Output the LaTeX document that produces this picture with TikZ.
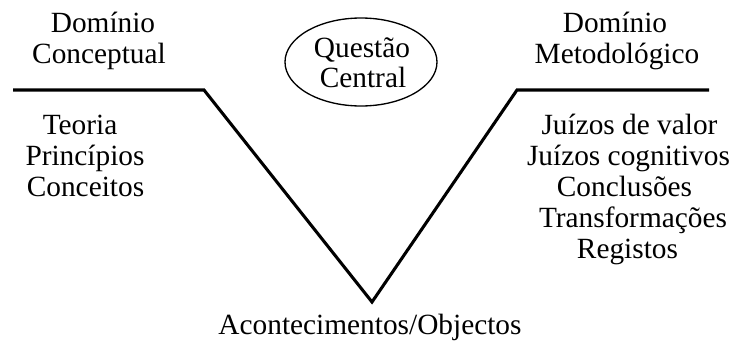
\documentclass[tikz,border=0pt]{standalone}
\usepackage{fontspec}
\setmainfont{Liberation Serif}
\usetikzlibrary{shapes.geometric}
\tikzset{
  lbl/.style={anchor=base, inner sep=0pt, font=\fontsize{22}{24}\selectfont},
  vline/.style={line width=2.3pt},
  qell/.style={draw, ellipse, line width=1pt, minimum width=114pt, minimum height=66pt, inner sep=0pt}
}
\begin{document}
\begin{tikzpicture}[x=0.75pt, y=-0.75pt]
\useasboundingbox (0,0) rectangle (732,343);
% V shape
\coordinate (l0) at (13,90);
\coordinate (l1) at (204,90);
\coordinate (vb) at (372,302);
\coordinate (r1) at (517,90);
\coordinate (r0) at (709,90);
\draw[vline] (l0) -- (l1) -- (vb) -- (r1) -- (r0);
% central question
\node[qell] (q) at (361,62) {};
\node[lbl] (q1) at (362,57) {Questão};
\node[lbl] (q2) at (363,87) {Central};
% left domain
\node[lbl] (dc1) at (103,32) {Domínio};
\node[lbl] (dc2) at (99,63) {Conceptual};
\node[lbl] (t1) at (80,134) {Teoria};
\node[lbl] (t2) at (85,165) {Princípios};
\node[lbl] (t3) at (85.5,196) {Conceitos};
% right domain
\node[lbl] (dm1) at (615,32) {Domínio};
\node[lbl] (dm2) at (617,63) {Metodológico};
\node[lbl] (m1) at (629.5,134) {Juízos de valor};
\node[lbl] (m2) at (628.5,165) {Juízos cognitivos};
\node[lbl] (m3) at (624.5,196) {Conclusões};
\node[lbl] (m4) at (633,227) {Transformações};
\node[lbl] (m5) at (627.5,258) {Registos};
% bottom
\node[lbl] (ev) at (370,334) {Acontecimentos/Objectos};
\end{tikzpicture}
\end{document}
